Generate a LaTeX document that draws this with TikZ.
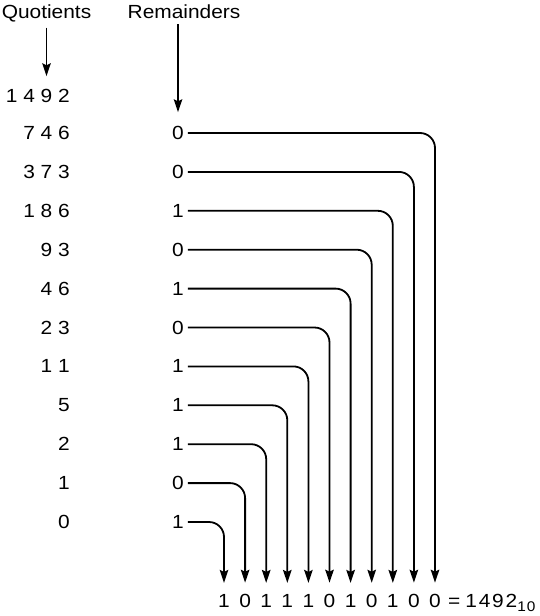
\documentclass[tikz,border=0pt]{standalone}
\usepackage{fontspec}
\setmainfont{Liberation Sans}[FakeStretch=1.1]
\usetikzlibrary{arrows.meta}
\begin{document}
\begin{tikzpicture}[x=1pt,y=-1pt,
  font=\fontsize{19}{22}\selectfont,
  lbl/.style={inner sep=0pt},
  hdr/.style={lbl, anchor=base, outer ysep=6pt},
  quo/.style={lbl, anchor=east, outer ysep=13pt},
  rem/.style={lbl, outer xsep=4pt, outer ysep=14pt},
  bit/.style={lbl, anchor=base, outer ysep=11pt},
  tip/.style={-{Stealth[length=13pt,width=8.5pt,inset=2pt]}},
  pointer/.style={line width=1.5pt, tip},
  wire/.style={line width=1.8pt, rounded corners=15pt, tip},
]
\useasboundingbox (0,0) rectangle (539,616);
\node[hdr] (hq) at (46.5,18) {Quotients};
\node[hdr] (hr) at (184,18) {Remainders};
\node[quo] (q0) at (70,96) {1 4 9 2};
\foreach \k/\q/\r in {1/7 4 6/0, 2/3 7 3/0, 3/1 8 6/1, 4/9 3/0, 5/4 6/1,
                      6/2 3/0, 7/1 1/1, 8/5/1, 9/2/1, 10/1/0, 11/0/1}{
  \pgfmathsetmacro\ry{133+38.9*(\k-1)}
  \pgfmathsetmacro\cx{435-21.1*(\k-1)}
  \node[quo] (q\k) at (70,\ry) {\q};
  \node[rem] (r\k) at (178,\ry) {\r};
  \node[bit] (b\k) at (\cx,607) {\r};
  \draw[wire] (r\k.east) -| (b\k.north);
}
\node[lbl, anchor=base west] (res) at (448,607)
  {=\kern5pt 1\kern1.8pt4\kern1.8pt9\kern1.8pt2\raisebox{-4pt}{\fontsize{14}{14}\selectfont 1\kern1pt0}};
\draw[pointer] (hq.south) -- (hq.south |- q0.north);
\draw[pointer] (hr.south -| r1.north) -- (r1.north);
\end{tikzpicture}
\end{document}
